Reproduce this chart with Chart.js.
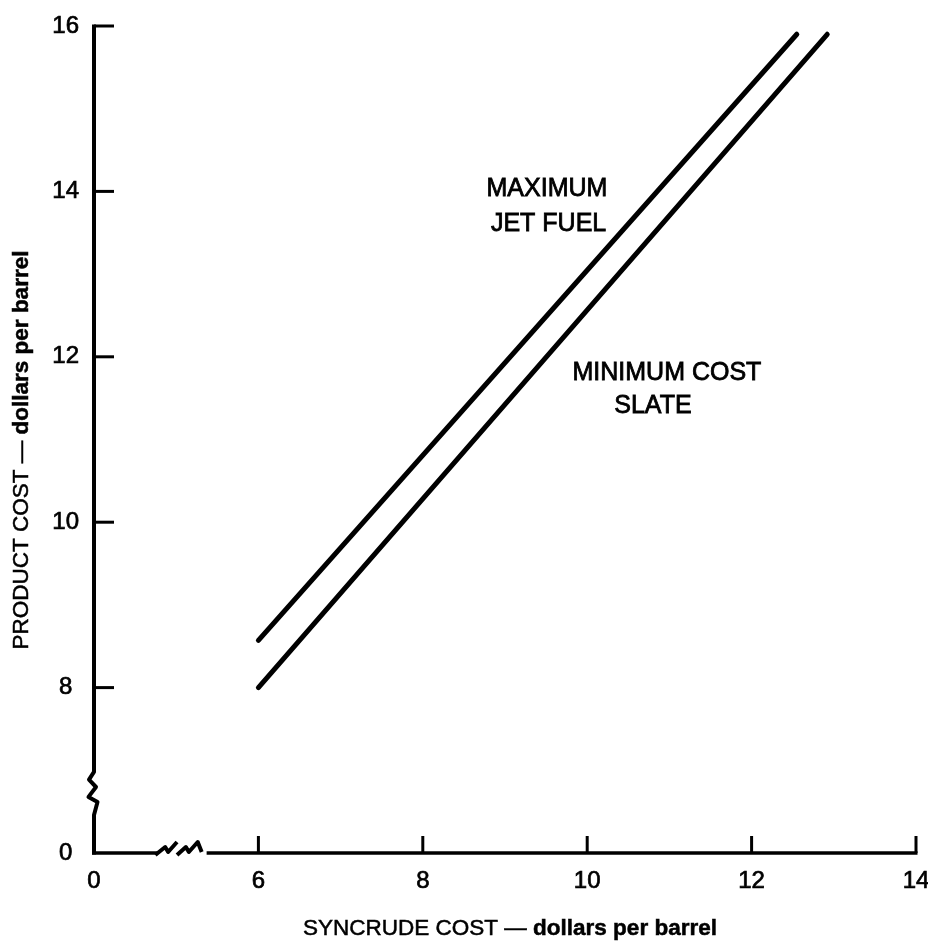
<!DOCTYPE html>
<html>
<head>
<meta charset="utf-8">
<script src="https://cdn.jsdelivr.net/npm/chart.js@4/dist/chart.umd.min.js"></script>
<style>
  html, body { margin: 0; padding: 0; background: #fff; }
  #c { display: block; }
</style>
</head>
<body>
<canvas id="c" width="928" height="947"></canvas>
<script>
// Broken axes: the "0" of each axis sits one step below the first real tick.
const X_ZERO_POS = 4;
const Y_ZERO_POS = 6;

const xTickLabels = [0, 6, 8, 10, 12, 14];
const yTickLabels = [0, 8, 10, 12, 14, 16];

// Syncrude cost (x) vs product cost (y), dollars per barrel
const maxJetFuelX = [6.0, 12.55];
const maxJetFuelY = [8.57, 15.9];
const minCostX = [6.0, 12.92];
const minCostY = [8.0, 15.9];

const toXPos = v => (v === 0 ? X_ZERO_POS : v);
const toYPos = v => (v === 0 ? Y_ZERO_POS : v);

const FONT = '"Liberation Sans", Arial, sans-serif';

// Axis lines with break symbols and inward tick marks
const axisPlugin = {
  id: 'brokenAxes',
  beforeDatasetsDraw(chart) {
    const { ctx } = chart;
    const xs = chart.scales.x, ys = chart.scales.y;
    const ax = xs.getPixelForValue(X_ZERO_POS);
    const ay = ys.getPixelForValue(Y_ZERO_POS);
    const xEnd = xs.getPixelForValue(14);
    const yEnd = ys.getPixelForValue(16);
    ctx.save();
    ctx.strokeStyle = '#000';
    ctx.lineJoin = 'round';
    ctx.lineCap = 'butt';

    // y axis with zigzag break
    const yb0 = ys.getPixelForValue(6.46);
    const yb1 = ys.getPixelForValue(6.98);
    const h = yb0 - yb1;
    ctx.lineWidth = 4;
    ctx.beginPath();
    ctx.moveTo(ax, ay + 1.5);
    ctx.lineTo(ax, yb0);
    ctx.lineTo(ax + 3.5, yb0 - 0.3 * h);
    ctx.lineTo(ax - 5.5, yb0 - 0.42 * h);
    ctx.lineTo(ax + 2, yb0 - 0.65 * h);
    ctx.lineTo(ax - 5, yb0 - 0.82 * h);
    ctx.lineTo(ax, yb1);
    ctx.lineTo(ax, yEnd - 1.5);
    ctx.stroke();

    // x axis with squiggle break
    const xb0 = xs.getPixelForValue(4.77);
    const xb1 = xs.getPixelForValue(5.37);
    const w = xb1 - xb0;
    ctx.lineWidth = 3.5;
    ctx.beginPath();
    ctx.moveTo(ax - 2, ay);
    ctx.lineTo(xb0, ay);
    ctx.stroke();
    ctx.lineWidth = 4;
    ctx.beginPath();
    ctx.moveTo(xb0 - 2, ay + 2);
    ctx.lineTo(xb0 + 0.16 * w, ay - 6);
    ctx.lineTo(xb0 + 0.22 * w, ay - 1);
    ctx.lineTo(xb0 + 0.4 * w, ay - 11);
    ctx.moveTo(xb0 + 0.4 * w, ay + 2);
    ctx.lineTo(xb0 + 0.58 * w, ay - 6);
    ctx.lineTo(xb0 + 0.64 * w, ay - 1);
    ctx.lineTo(xb0 + 0.82 * w, ay - 11);
    ctx.lineTo(xb0 + 0.9 * w, ay - 1);
    ctx.stroke();
    ctx.lineWidth = 3.5;
    ctx.beginPath();
    ctx.moveTo(xb1, ay);
    ctx.lineTo(xEnd + 1.5, ay);
    ctx.stroke();

    // tick marks pointing into the plot
    ctx.lineWidth = 3;
    yTickLabels.filter(v => v !== 0).forEach(v => {
      const py = ys.getPixelForValue(toYPos(v));
      ctx.beginPath();
      ctx.moveTo(ax, py);
      ctx.lineTo(ax + 20, py);
      ctx.stroke();
    });
    xTickLabels.filter(v => v !== 0).forEach(v => {
      const px = xs.getPixelForValue(toXPos(v));
      ctx.beginPath();
      ctx.moveTo(px, ay);
      ctx.lineTo(px, ay - 17);
      ctx.stroke();
    });
    ctx.restore();
  }
};

function drawMixed(ctx, parts, cx, cy) {
  let total = 0;
  parts.forEach(p => { ctx.font = p.font; p.w = ctx.measureText(p.text).width; total += p.w; });
  let x = cx - total / 2;
  ctx.textAlign = 'left';
  ctx.textBaseline = 'alphabetic';
  parts.forEach(p => {
    ctx.font = p.font;
    ctx.fillText(p.text, x, cy);
    ctx.strokeText(p.text, x, cy);
    x += p.w;
  });
}

// Curve labels and axis titles
const textPlugin = {
  id: 'chartText',
  afterDraw(chart) {
    const { ctx } = chart;
    const xs = chart.scales.x, ys = chart.scales.y;
    ctx.save();
    ctx.fillStyle = '#000';
    ctx.strokeStyle = '#000';
    ctx.lineWidth = 0.8;
    ctx.font = '25px ' + FONT;
    ctx.textAlign = 'center';
    ctx.textBaseline = 'middle';
    const labels = [
      { text: 'MAXIMUM', x: 9.51, y: 14.04 },
      { text: 'JET FUEL', x: 9.53, y: 13.62 },
      { text: 'MINIMUM COST', x: 10.97, y: 11.82 },
      { text: 'SLATE', x: 10.8, y: 11.41 }
    ];
    labels.forEach(l => {
      const px = xs.getPixelForValue(l.x), py = ys.getPixelForValue(l.y) + 1;
      ctx.fillText(l.text, px, py);
      ctx.strokeText(l.text, px, py);
    });

    ctx.lineWidth = 0.5;
    const reg = '22.5px ' + FONT;
    const bold = 'bold 22.5px ' + FONT;
    // x axis title
    drawMixed(ctx, [
      { text: 'SYNCRUDE COST \u2014 ', font: reg },
      { text: 'dollars per barrel', font: bold }
    ], 510, 935);
    // y axis title
    ctx.translate(28, 450);
    ctx.rotate(-Math.PI / 2);
    drawMixed(ctx, [
      { text: 'PRODUCT COST \u2014 ', font: reg },
      { text: 'dollars per barrel', font: bold }
    ], 0, 0);
    ctx.restore();
  }
};

const lineStyle = {
  showLine: true,
  borderColor: '#000',
  backgroundColor: '#000',
  borderWidth: 5,
  borderCapStyle: 'round',
  pointRadius: 0,
  fill: false,
  clip: false
};

new Chart(document.getElementById('c'), {
  type: 'scatter',
  data: {
    datasets: [
      Object.assign({ label: 'Maximum jet fuel',
        data: maxJetFuelX.map((x, i) => ({ x, y: maxJetFuelY[i] })) }, lineStyle),
      Object.assign({ label: 'Minimum cost slate',
        data: minCostX.map((x, i) => ({ x, y: minCostY[i] })) }, lineStyle)
    ]
  },
  options: {
    responsive: false,
    animation: false,
    devicePixelRatio: 1,
    layout: { padding: { left: 0, right: 12, top: 26, bottom: 0 } },
    plugins: { legend: { display: false }, tooltip: { enabled: false } },
    scales: {
      x: {
        type: 'linear', min: X_ZERO_POS, max: 14,
        grid: { display: false, drawTicks: false },
        border: { display: false },
        afterBuildTicks: s => { s.ticks = xTickLabels.map(v => ({ value: toXPos(v) })); },
        afterFit: s => { s.height = 94; s.paddingLeft = 0; s.paddingRight = 0; },
        ticks: {
          padding: 14, color: '#000', autoSkip: false, maxRotation: 0,
          textStrokeColor: '#000', textStrokeWidth: 0.7,
          font: { family: FONT, size: 24 },
          callback: v => (v === X_ZERO_POS ? '0' : String(v))
        }
      },
      y: {
        type: 'linear', min: Y_ZERO_POS, max: 16,
        grid: { display: false, drawTicks: false },
        border: { display: false },
        afterBuildTicks: s => { s.ticks = yTickLabels.map(v => ({ value: toYPos(v) })); },
        afterFit: s => { s.width = 94; s.paddingTop = 0; s.paddingBottom = 0; },
        ticks: {
          padding: 15, color: '#000', autoSkip: false, crossAlign: 'center',
          textStrokeColor: '#000', textStrokeWidth: 0.7,
          font: { family: FONT, size: 24 },
          callback: v => (v === Y_ZERO_POS ? '0' : String(v))
        }
      }
    }
  },
  plugins: [axisPlugin, textPlugin]
});
</script>
</body>
</html>
